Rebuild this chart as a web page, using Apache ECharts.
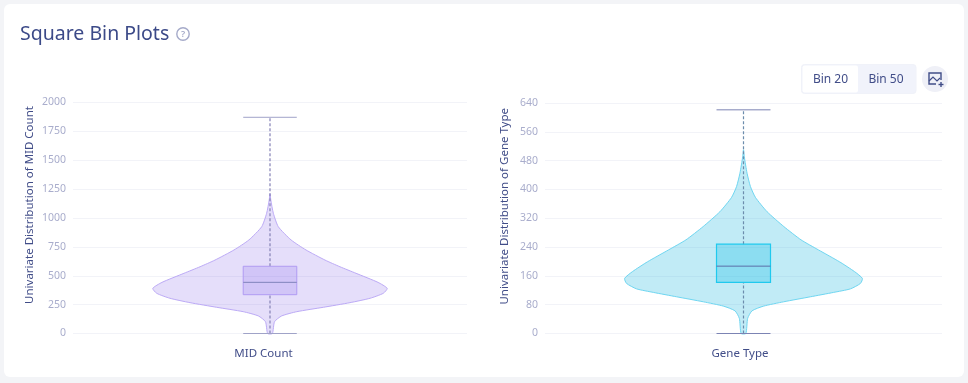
<!DOCTYPE html>
<html><head><meta charset="utf-8">
<style>html,body{margin:0;padding:0;background:#f3f4f7}#c{width:968px;height:383px}</style>
<script src="https://cdn.jsdelivr.net/npm/echarts@6/dist/echarts.min.js"></script>
</head><body><div id="c"></div>
<script>
const FONT = '"Noto Sans", "Open Sans", sans-serif';
const midTicks = [0, 250, 500, 750, 1000, 1250, 1500, 1750, 2000];
const geneTicks = [0, 80, 160, 240, 320, 400, 480, 560, 640];
const midCategories = ['MID Count'];
const geneCategories = ['Gene Type'];

const midLevels  = [0, 102, 152, 189, 227, 267, 305, 348, 391, 443, 521, 578, 636, 723, 810, 925, 1041, 1156, 1210];
const midDensity = [.012, .023, .059, .136, .271, .406, .508, .575, .595, .548, .437, .355, .279, .183, .107, .042, .017, .004, .0005];
const midBox = {low: 0, q1: 336, median: 443, q3: 582, high: 1872};

const geneLevels  = [0, 42, 63, 76, 88, 102, 114, 124, 139, 153, 172, 199, 232, 260, 297, 338, 378, 408, 445, 491, 510];
const geneDensity = [.012, .021, .043, .101, .202, .338, .453, .539, .589, .599, .559, .484, .378, .290, .203, .119, .060, .035, .018, .004, .0005];
const geneBox = {low: 0, q1: 142, median: 187, q3: 248, high: 621};

const BOX_HALF = 0.136;

function violin(levels, density, box, colors) {
  return function (params, api) {
    const right = levels.map((v, i) => api.coord([density[i], v]));
    const left = levels.map((v, i) => api.coord([-density[i], v])).reverse();
    const xy = (d, v) => api.coord([d, v]);
    const line = (a, b, style) => ({type: 'line', shape: {x1: a[0], y1: a[1], x2: b[0], y2: b[1]}, style});
    const whisker = {stroke: colors.whisker, lineWidth: 1.2, lineDash: [3, 2]};
    const cap = {stroke: colors.cap, lineWidth: 1};
    const tl = xy(-BOX_HALF, box.q3), br = xy(BOX_HALF, box.q1);
    return {type: 'group', children: [
      {type: 'polygon', shape: {points: right.concat(left), smooth: 0.2},
       style: {fill: colors.fill, stroke: colors.stroke, lineWidth: 1}},
      line(xy(0, box.q3), xy(0, box.high), whisker),
      line(xy(0, box.low), xy(0, box.q1), whisker),
      line(xy(-BOX_HALF, box.high), xy(BOX_HALF, box.high), cap),
      line(xy(-BOX_HALF, box.low), xy(BOX_HALF, box.low), cap),
      {type: 'rect', shape: {x: tl[0], y: tl[1], width: br[0] - tl[0], height: br[1] - tl[1]},
       style: {fill: colors.boxFill, stroke: colors.boxStroke, lineWidth: colors.boxWidth}},
      line(xy(-BOX_HALF, box.median), xy(BOX_HALF, box.median), {stroke: colors.median, lineWidth: 1})
    ]};
  };
}

const purple = {fill: 'rgba(123,92,232,0.2)', stroke: '#bcaaf6', whisker: '#8481b6', cap: '#a0a3c8',
  boxFill: 'rgba(132,100,235,0.2)', boxStroke: '#b09bf3', median: '#8084bb', boxWidth: 1};
const cyan = {fill: 'rgba(40,185,225,0.29)', stroke: '#6fd6f1', whisker: '#6c8cac', cap: '#7c84b4',
  boxFill: 'rgba(20,190,230,0.3)', boxStroke: '#1fc9ee', median: '#5b6fa8', boxWidth: 1.2};

function yAxis(idx, ticks, name, gap, shift) {
  return {type: 'value', gridIndex: idx, min: ticks[0], max: ticks[ticks.length - 1],
    interval: ticks[1] - ticks[0], name, nameLocation: 'middle', nameGap: gap, nameMoveOverlap: false,
    nameTextStyle: {color: '#414d88', fontSize: 11.5, fontFamily: FONT, padding: [0, 0, 0, shift]},
    axisLine: {show: false}, axisTick: {show: false},
    axisLabel: {color: '#a9adcc', fontSize: 10.5, margin: 7, fontFamily: FONT, lineHeight: 17, verticalAlign: 'middle', padding: [4, 0, 0, 0], formatter: v => String(v)},
    splitLine: {show: true, lineStyle: {color: '#f2f3f8', width: 1}}};
}
function catAxis(idx, cats, pad) {
  return {type: 'category', gridIndex: idx, data: cats, position: 'bottom',
    axisLine: {show: false}, axisTick: {show: false}, splitLine: {show: false},
    axisLabel: {color: '#414d88', fontSize: 11.5, margin: 14, fontFamily: FONT, padding: [0, pad, 0, 0]}};
}
function densityAxis(idx) {
  return {type: 'value', gridIndex: idx, min: -1, max: 1, show: false};
}

const graphics = [
  {type: 'rect', z: -10, shape: {x: 4, y: 4, width: 960, height: 373, r: 6}, style: {fill: '#fff'}},
  {type: 'text', left: 20, top: 24, style: {text: 'Square Bin Plots', fill: '#3c4a88', font: '19.5px ' + FONT}},
  {type: 'circle', shape: {cx: 183, cy: 34, r: 6.2}, style: {fill: 'none', stroke: '#a5aac9', lineWidth: 1.4}},
  {type: 'text', style: {x: 183, y: 34, text: '?', fill: '#a5aac9', font: '600 9px ' + FONT, align: 'center', verticalAlign: 'middle'}},
  {type: 'rect', shape: {x: 801.5, y: 64.5, width: 114.5, height: 29, r: 3}, style: {fill: '#f1f3fb', stroke: '#f0f2f9', lineWidth: 1}},
  {type: 'rect', shape: {x: 802.5, y: 65.5, width: 55.5, height: 27, r: 2}, style: {fill: '#fff'}},
  {type: 'text', style: {x: 830.5, y: 79.5, text: 'Bin 20', fill: '#414d88', font: '12px ' + FONT, align: 'center', verticalAlign: 'middle'}},
  {type: 'text', style: {x: 886, y: 79.5, text: 'Bin 50', fill: '#414d88', font: '12px ' + FONT, align: 'center', verticalAlign: 'middle'}},
  {type: 'circle', shape: {cx: 935, cy: 79, r: 13}, style: {fill: '#eff0f7'}},
  {type: 'polyline', shape: {points: [[941, 80], [941, 73], [929, 73], [929, 84], [936, 84]]}, style: {fill: 'none', stroke: '#414d88', lineWidth: 1.4}},
  {type: 'polyline', shape: {points: [[929, 81], [933, 77], [937, 81], [940, 78]]}, style: {fill: 'none', stroke: '#414d88', lineWidth: 1.2}},
  {type: 'line', shape: {x1: 941, y1: 82, x2: 941, y2: 87}, style: {stroke: '#414d88', lineWidth: 1.4}},
  {type: 'line', shape: {x1: 938.5, y1: 84.5, x2: 943.5, y2: 84.5}, style: {stroke: '#414d88', lineWidth: 1.4}}
];

const chart = echarts.init(document.getElementById('c'), null, {renderer: 'canvas'});
chart.setOption({
  animation: false,
  backgroundColor: 'transparent',
  graphic: graphics,
  grid: [
    {left: 73, width: 394, top: 102.5, height: 231},
    {left: 545, width: 397, top: 103, height: 230.5}
  ],
  xAxis: [catAxis(0, midCategories, 13), catAxis(1, geneCategories, 7), densityAxis(0), densityAxis(1)],
  yAxis: [
    yAxis(0, midTicks, 'Univariate Distribution of MID Count', 37, 26),
    yAxis(1, geneTicks, 'Univariate Distribution of Gene Type', 34, 24)
  ],
  series: [
    {type: 'custom', xAxisIndex: 2, yAxisIndex: 0, data: [[0, 0]], clip: false, renderItem: violin(midLevels, midDensity, midBox, purple)},
    {type: 'custom', xAxisIndex: 3, yAxisIndex: 1, data: [[0, 0]], clip: false, renderItem: violin(geneLevels, geneDensity, geneBox, cyan)}
  ]
});
</script></body></html>
